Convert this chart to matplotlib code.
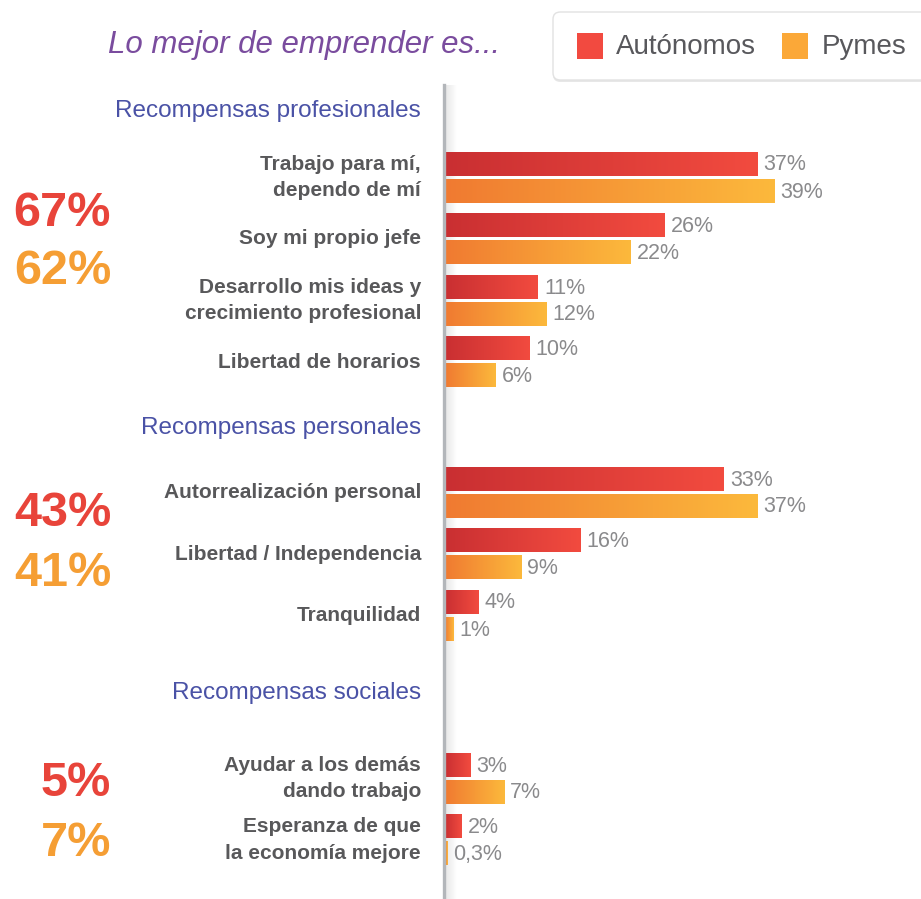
import matplotlib.pyplot as plt
import numpy as np
from matplotlib.colors import LinearSegmentedColormap
from matplotlib.patches import FancyBboxPatch, Rectangle

plt.rcParams['font.family'] = ['Liberation Sans', 'DejaVu Sans']

W, H = 921, 899

# data
sections = ['Recompensas profesionales', 'Recompensas personales', 'Recompensas sociales']
categories = [
    ['Trabajo para mí,\ndependo de mí', 'Soy mi propio jefe',
     'Desarrollo mis ideas y\ncrecimiento profesional', 'Libertad de horarios'],
    ['Autorrealización personal', 'Libertad / Independencia', 'Tranquilidad'],
    ['Ayudar a los demás\ndando trabajo', 'Esperanza de que\nla economía mejore'],
]
autonomos = [[37, 26, 11, 10], [33, 16, 4], [3, 2]]
pymes = [[39, 22, 12, 6], [37, 9, 1], [7, 0.3]]
total_aut = ['67%', '43%', '5%']
total_pym = ['62%', '41%', '7%']

# layout (pixels)
sec_y = [111, 428, 693]
first_row = [164, 479, 765]
total_y = [(214, 272), (514, 574), (783, 843)]
step = 61.5
gap = 27
bar_h = 24
px_per_pct = 8.45
x0 = 445

red_c = '#e8443a'
org_c = '#f59e34'
red_cmap = LinearSegmentedColormap.from_list('r', ['#c92f32', '#f24b3f'])
org_cmap = LinearSegmentedColormap.from_list('o', ['#f07a31', '#fcb93c'])
grad = np.linspace(0, 1, 256).reshape(1, -1)


def fx(x):
    return x / W


def fy(y):
    return 1 - y / H


def fmt(v):
    if float(v).is_integer():
        return f'{int(v)}%'
    return f'{v}'.replace('.', ',') + '%'


fig = plt.figure(figsize=(W / 100, H / 100), dpi=100)
ax = fig.add_axes([fx(x0), 0, (W - x0) / W, 1])
xmax = (W - x0) / px_per_pct

# axis shadow
shade = np.zeros((1, 64, 4))
shade[..., :3] = 0.55
shade[..., 3] = np.linspace(0.22, 0, 64)
ax.imshow(shade, extent=[0, 12 / px_per_pct, H, 85], aspect='auto', zorder=0)

for g in range(len(sections)):
    for i, cat in enumerate(categories[g]):
        yr = first_row[g] + i * step
        yo = yr + gap
        for val, yy, cmap in [(autonomos[g][i], yr, red_cmap), (pymes[g][i], yo, org_cmap)]:
            ax.barh(yy, val, height=bar_h, color='none', zorder=2)
            ax.imshow(grad, cmap=cmap, extent=[0, val, yy + bar_h / 2, yy - bar_h / 2],
                      aspect='auto', zorder=2)
            ax.text(val + 6 / px_per_pct, yy + 1, fmt(val), ha='left', va='center',
                    fontsize=15.5, color='#8a8a8c')
        fig.text(fx(421), fy((yr + yo) / 2), cat, ha='right', va='center',
                 fontsize=15, fontweight='bold', color='#58585a',
                 linespacing=1.5, multialignment='right')
    fig.text(fx(421), fy(sec_y[g]), sections[g], ha='right', va='center',
             fontsize=17.5, color='#4a52a6')
    fig.text(fx(111), fy(total_y[g][0]), total_aut[g], ha='right', va='center',
             fontsize=35, fontweight='bold', color=red_c)
    fig.text(fx(111), fy(total_y[g][1]), total_pym[g], ha='right', va='center',
             fontsize=35, fontweight='bold', color=org_c)

ax.set_xlim(0, xmax)
ax.set_ylim(H, 0)
ax.axis('off')

# vertical axis line
fig.add_artist(plt.Line2D([fx(443.5), fx(443.5)], [fy(85), 0], color='#b3b6ba', lw=2.4))

# title
fig.text(fx(108), fy(45), 'Lo mejor de emprender es...', ha='left', va='center',
         fontsize=22.5, style='italic', color='#7a4c9e')

# legend box
fig.add_artist(FancyBboxPatch((fx(553), fy(82)), fx(400), 70 / H,
                              boxstyle='round,pad=0,rounding_size=0.008',
                              transform=fig.transFigure, fc='#d8d8d8', ec='none', alpha=0.6))
fig.add_artist(FancyBboxPatch((fx(553), fy(80)), fx(400), 68 / H,
                              boxstyle='round,pad=0,rounding_size=0.008',
                              transform=fig.transFigure, fc='white', ec='#e2e2e2', lw=1))
fig.add_artist(Rectangle((fx(577), fy(59)), fx(26), 26 / H, transform=fig.transFigure,
                         fc='#f24a40', ec='none'))
fig.add_artist(Rectangle((fx(782), fy(59)), fx(26), 26 / H, transform=fig.transFigure,
                         fc='#fba838', ec='none'))
fig.text(fx(616), fy(47), 'Autónomos', ha='left', va='center', fontsize=20, color='#58585c')
fig.text(fx(822), fy(47), 'Pymes', ha='left', va='center', fontsize=20, color='#58585c')

fig.savefig('out.png', dpi=100)
